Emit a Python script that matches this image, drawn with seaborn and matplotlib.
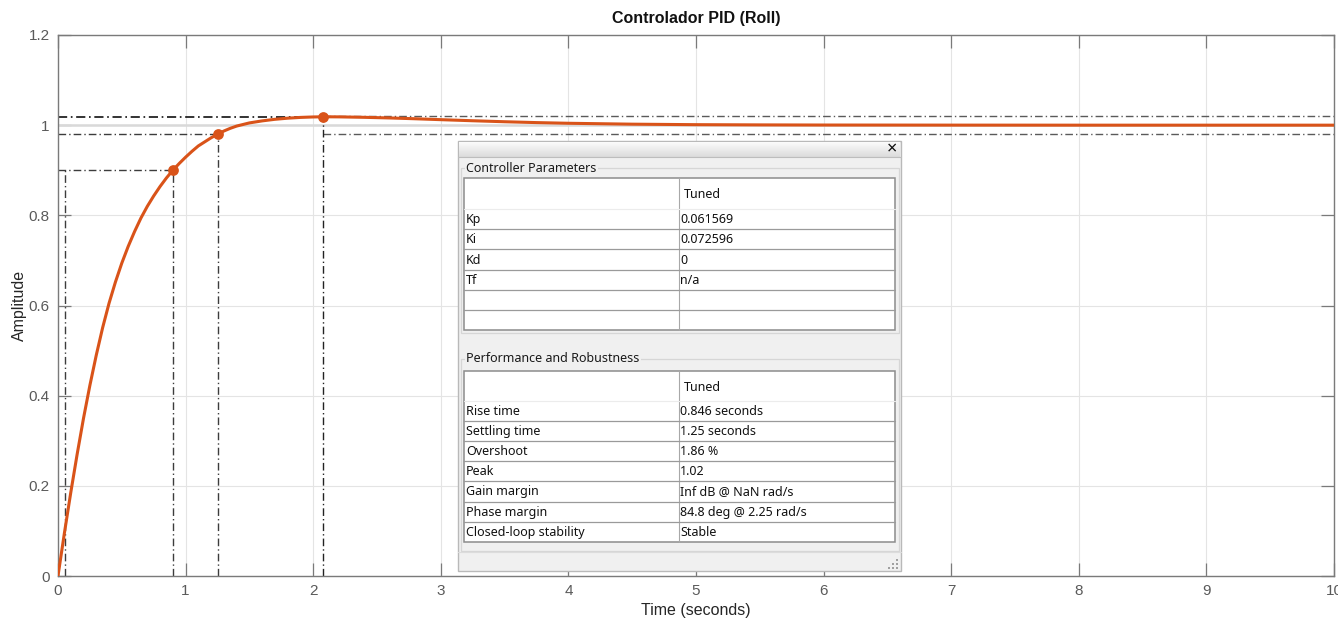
import numpy as np
import pandas as pd
import matplotlib
matplotlib.use("Agg")
import matplotlib.pyplot as plt
from matplotlib.patches import Rectangle
import seaborn as sns

# ---- closed-loop step response (sampled) ----
time_s = [0.00, 0.05, 0.10, 0.15, 0.20, 0.25, 0.30, 0.35, 0.40, 0.45, 0.50,
          0.55, 0.60, 0.65, 0.70, 0.75, 0.80, 0.85, 0.90, 0.95, 1.00, 1.05,
          1.10, 1.15, 1.20, 1.25, 1.30, 1.35, 1.40, 1.50, 1.60, 1.70, 1.80,
          1.90, 2.00, 2.08, 2.20, 2.40, 2.60, 2.80, 3.00, 3.25, 3.50, 3.75,
          4.00, 4.50, 5.00, 5.50, 6.00, 7.00, 8.00, 9.00, 10.00]
amplitude = [0.000, 0.095, 0.185, 0.270, 0.350, 0.423, 0.490, 0.551, 0.605,
             0.652, 0.694, 0.731, 0.764, 0.794, 0.820, 0.843, 0.864, 0.883,
             0.900, 0.915, 0.929, 0.942, 0.954, 0.963, 0.972, 0.980, 0.987,
             0.993, 0.998, 1.005, 1.0095, 1.013, 1.0155, 1.0172, 1.0182,
             1.0186, 1.0184, 1.0174, 1.0160, 1.0142, 1.0122, 1.0098, 1.0076,
             1.0057, 1.0042, 1.0022, 1.0011, 1.0006, 1.0003, 1.0001, 1.0,
             1.0, 1.0]

# ---- step characteristics ----
rise_start = 0.053
rise_end = 0.899
rise_level = 0.90
settle_time = 1.25
settle_level = 0.98
settle_band = [0.98, 1.02]
peak_time = 2.08
peak_value = 1.0186
final_value = 1.0

# ---- axis ticks ----
x_ticks = [0, 1, 2, 3, 4, 5, 6, 7, 8, 9, 10]
y_ticks = [0, 0.2, 0.4, 0.6, 0.8, 1.0, 1.2]
y_tick_labels = ["0", "0.2", "0.4", "0.6", "0.8", "1", "1.2"]

# ---- tuner tables ----
ctrl_names = ["Kp", "Ki", "Kd", "Tf", "", ""]
ctrl_values = ["0.061569", "0.072596", "0", "n/a", "", ""]
perf_names = ["Rise time", "Settling time", "Overshoot", "Peak",
              "Gain margin", "Phase margin", "Closed-loop stability"]
perf_values = ["0.846 seconds", "1.25 seconds", "1.86 %", "1.02",
               "Inf dB @ NaN rad/s", "84.8 deg @ 2.25 rad/s", "Stable"]

sns.set_theme(style="whitegrid")
plt.rcParams["font.family"] = ["Liberation Sans", "DejaVu Sans"]

W, H = 1338, 619
fig = plt.figure(figsize=(W / 100, H / 100), dpi=100)
fig.patch.set_facecolor("white")
ax = fig.add_axes([58 / W, (H - 576) / H, 1276 / W, 541 / H])
ax.set_facecolor("white")

resp = pd.DataFrame({"t": time_s, "y": amplitude})
orange = "#D95319"
dashdot = (0, (5.5, 2.2, 1, 2.2))

# steady-state reference
ax.plot([0, 10], [final_value, final_value], color="#d9d9d9", lw=1.8, zorder=1)

# settling band
for lvl in settle_band:
    ax.plot([peak_time, 10], [lvl, lvl], color="#5a5a5a", lw=1.0,
            linestyle=dashdot, zorder=2)

guide = dict(color="#3c3c3c", lw=1.0, linestyle=dashdot, zorder=2)
# rise time guides
ax.plot([0, rise_end], [rise_level, rise_level], **guide)
ax.plot([rise_start, rise_start], [0, rise_level], **guide)
ax.plot([rise_end, rise_end], [0, rise_level], **guide)
# settling time guides
ax.plot([0, settle_time], [settle_level, settle_level], **guide)
ax.plot([settle_time, settle_time], [0, settle_level], **guide)
# peak guides
ax.plot([0, peak_time], [peak_value, peak_value], color="#111111", lw=1.2,
        linestyle=dashdot, zorder=2)
ax.plot([peak_time, peak_time], [0, peak_value], color="#222222", lw=1.0,
        linestyle=dashdot, zorder=2)

sns.lineplot(data=resp, x="t", y="y", ax=ax, color=orange, lw=2.2, zorder=4)
marks = pd.DataFrame({"t": [rise_end, settle_time, peak_time],
                      "y": [rise_level, settle_level, peak_value]})
sns.scatterplot(data=marks, x="t", y="y", ax=ax, color=orange, s=60,
                edgecolor=orange, linewidth=0, zorder=5)

ax.set_xlim(0, 10)
ax.set_ylim(0, 1.2)
ax.set_xticks(x_ticks)
ax.set_yticks(y_ticks)
ax.set_yticklabels(y_tick_labels)
ax.grid(True, color="#e4e4e4", lw=0.8)
for s in ax.spines.values():
    s.set_color("#7a7a7a")
    s.set_linewidth(1.0)
ax.tick_params(direction="in", length=9.2, width=0.9, color="#7a7a7a",
               labelcolor="#5a5a5a", labelsize=11, top=True, right=True,
               bottom=True, left=True, pad=6)
ax.set_xlabel("Time (seconds)", fontsize=11.5, color="#262626", labelpad=3)
ax.set_ylabel("Amplitude", fontsize=11.5, color="#262626", labelpad=1)
ax.set_title("Controlador PID (Roll)", fontsize=11.5, fontweight="bold",
             color="#111111", pad=9)

# ---- tuner panel drawn in pixel coordinates ----
ov = fig.add_axes([0, 0, 1, 1], zorder=10)
ov.set_xlim(0, W)
ov.set_ylim(H, 0)
ov.axis("off")
ov.patch.set_alpha(0)

ui_font = ["Noto Sans", "DejaVu Sans"]
fs = 9.0
px0, px1, py0, py1 = 458, 901, 141, 571
ov.add_patch(Rectangle((px0, py0), px1 - px0, py1 - py0, facecolor="#f0f0f0",
                       edgecolor="#b9b9b9", lw=1.0))
shade = np.linspace(0.985, 0.86, 32)
bar_rgb = np.repeat(shade[:, None, None], 3, axis=2)
ov.imshow(bar_rgb, extent=(px0 + 1, px1 - 1, 157, py0 + 1), aspect="auto",
          zorder=1, interpolation="bilinear")
ov.plot([px0, px1], [157, 157], color="#bdbdbd", lw=0.8)
ov.text(892, 149, "\u00d7", fontsize=13, fontweight="bold", ha="center",
        va="center", color="#111111", family=ui_font)


def group(top, bottom, label):
    ov.add_patch(Rectangle((461, top), 438, bottom - top, facecolor="none",
                           edgecolor="#d6d6d6", lw=0.9))
    ov.text(466, top, label, fontsize=fs, ha="left", va="center",
            color="#1a1a1a", family=ui_font,
            bbox=dict(facecolor="#f0f0f0", edgecolor="none", pad=1.0))


def table(top, header_bottom, row_h, names, values):
    n = len(names)
    bottom = header_bottom + n * row_h
    ov.add_patch(Rectangle((464, top), 431, bottom - top, facecolor="white",
                           edgecolor="#8c8c8c", lw=1.1, zorder=2))
    ov.plot([679, 679], [top, bottom], color="#a8a8a8", lw=0.8, zorder=3)
    ov.plot([464, 895], [header_bottom, header_bottom], color="#ececec", lw=0.8, zorder=3)
    ov.text(684, (top + header_bottom) / 2 + 1.5, "Tuned", fontsize=fs,
            ha="left", va="center", color="#111111", family=ui_font, zorder=4)
    for i, (nm, vl) in enumerate(zip(names, values)):
        y0 = header_bottom + i * row_h
        if i > 0:
            ov.plot([464, 895], [y0, y0], color="#9a9a9a", lw=0.9, zorder=3)
        yc = y0 + row_h / 2 + 0.5
        ov.text(466, yc, nm, fontsize=fs, ha="left", va="center",
                color="#111111", family=ui_font, zorder=4)
        ov.text(680, yc, vl, fontsize=fs, ha="left", va="center",
                color="#111111", family=ui_font, zorder=4)


group(168, 333, "Controller Parameters")
table(178, 209, 20.2, ctrl_names, ctrl_values)
group(359, 551, "Performance and Robustness")
table(371, 401, 20.1, perf_names, perf_values)
ov.plot([px0, px1], [552, 552], color="#dcdcdc", lw=0.8)
for gx, gy in [(897, 560), (897, 564), (893, 564), (897, 568), (893, 568), (889, 568)]:
    ov.add_patch(Rectangle((gx - 0.8, gy - 0.8), 1.6, 1.6, facecolor="#a0a0a0",
                           edgecolor="none"))

fig.savefig("out.png", dpi=100, facecolor="white")
